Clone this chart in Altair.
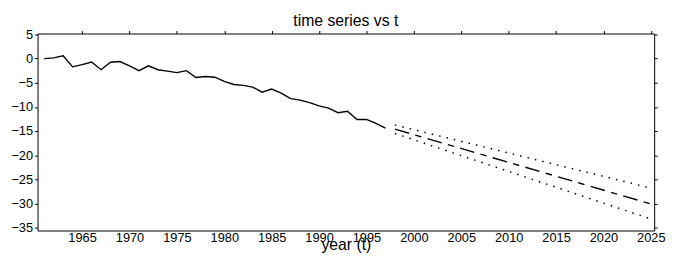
import altair as alt
import pandas as pd

# observed series 1961-1997
years = list(range(1961, 1998))
values = [0.0, 0.15, 0.6, -1.7, -1.25, -0.7, -2.3, -0.75, -0.6, -1.5,
          -2.5, -1.5, -2.3, -2.6, -2.9, -2.5, -3.9, -3.7, -3.85, -4.7,
          -5.35, -5.55, -5.9, -6.95, -6.3, -7.15, -8.3, -8.6, -9.1, -9.8,
          -10.25, -11.2, -10.9, -12.6, -12.6, -13.4, -14.4]

# forecast and bounds
fc_years = [1998, 2025]
fc_mid = [-14.6, -30.1]
fc_upper = [-13.75, -26.8]
fc_lower = [-15.5, -33.2]

x_ticks = list(range(1965, 2026, 5))
y_ticks = [5, 0, -5, -10, -15, -20, -25, -30, -35]
title_text = ["time series vs t"]

FONT = "Liberation Sans"
x_dom = [1960.3, 2025.35]
y_dom = [-35.6, 5.2]

obs = pd.DataFrame({"year": years, "value": values})
fc = pd.DataFrame({"year": fc_years, "mid": fc_mid, "upper": fc_upper, "lower": fc_lower})
ttl = pd.DataFrame({"t": title_text})

x_scale = alt.Scale(domain=x_dom, nice=False, zero=False)
y_scale = alt.Scale(domain=y_dom, nice=False, zero=False)

x_bottom = alt.Axis(values=x_ticks, format="d", grid=False, ticks=False, labelPadding=1,
                    labelFontSize=13, labelFont=FONT, labelColor="black",
                    domainColor="black", title="year (t)", titleFont=FONT,
                    titleFontSize=16, titleFontWeight="normal", titleColor="black",
                    titleBaseline="alphabetic", titleY=19, labelFlush=False)
y_left = alt.Axis(values=y_ticks, grid=False, tickSize=3, tickColor="black", labelPadding=2,
                  labelFontSize=13, labelFont=FONT, labelColor="black",
                  domainColor="black", title="")
x_top = alt.Axis(values=x_ticks, orient="top", grid=False, labels=False, tickSize=3,
                 tickColor="black", domainColor="black", title="")
y_right = alt.Axis(values=y_ticks, orient="right", grid=False, labels=False, tickSize=3,
                   tickColor="black", domainColor="black", title="")

line_obs = alt.Chart(obs).mark_line(color="black", strokeWidth=1.4, clip=True).encode(
    x=alt.X("year:Q", scale=x_scale, axis=x_bottom),
    y=alt.Y("value:Q", scale=y_scale, axis=y_left),
)

line_mid = alt.Chart(fc).mark_line(color="black", strokeWidth=1.4,
                                   strokeDash=[15, 6.5, 6.5, 6.5]).encode(
    x=alt.X("year:Q", scale=x_scale, axis=x_top),
    y=alt.Y("mid:Q", scale=y_scale, axis=y_right),
)

line_up = alt.Chart(fc).mark_line(color="black", strokeWidth=1.5,
                                  strokeDash=[1.5, 6.2]).encode(
    x=alt.X("year:Q", scale=x_scale, axis=x_top),
    y=alt.Y("upper:Q", scale=y_scale, axis=y_right),
)
line_lo = alt.Chart(fc).mark_line(color="black", strokeWidth=1.5,
                                  strokeDash=[1.5, 6.2]).encode(
    x=alt.X("year:Q", scale=x_scale, axis=x_top),
    y=alt.Y("lower:Q", scale=y_scale, axis=y_right),
)

title_mark = alt.Chart(ttl).mark_text(font=FONT, fontSize=16, color="black",
                                      align="center", baseline="alphabetic").encode(
    text="t:N",
    x=alt.value(313),
    y=alt.value(-7.5),
)

chart = alt.layer(line_obs, line_mid + line_up + line_lo, title_mark).resolve_axis(
    x="independent", y="independent"
).properties(
    width=626, height=200,
    autosize=alt.AutoSizeParams(type="none"),
    padding={"left": 30, "top": 24, "right": 12, "bottom": 26},
).configure_view(stroke=None)

chart.save("out.html", embed_options={"renderer": "svg", "actions": False})
